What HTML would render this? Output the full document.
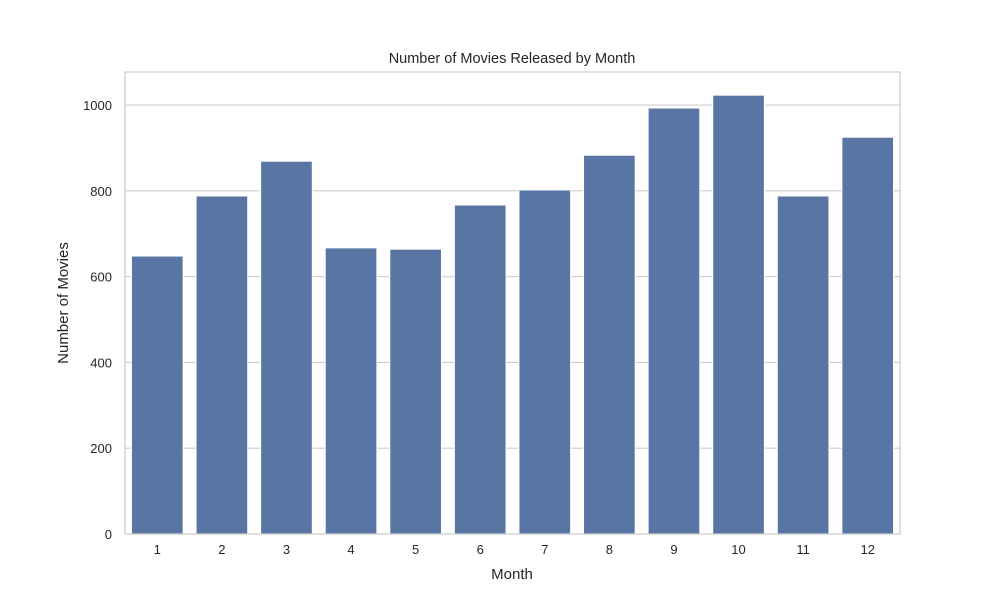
<!DOCTYPE html>
<html><head><meta charset="utf-8"><style>
body{margin:0;background:#fff;}
svg text{font-family:"Liberation Sans","DejaVu Sans",sans-serif;fill:#262626;}
</style></head><body>
<svg id="chart" width="1000" height="600" xmlns="http://www.w3.org/2000/svg">
<text x="512" y="63" font-size="14.5" text-anchor="middle">Number of Movies Released by Month</text>
<g id="grid"></g><g id="bars"></g><g id="ticks"></g>
<rect x="125" y="72" width="775" height="462" fill="none" stroke="#cccccc" stroke-width="1.25"/>
<text x="512" y="579" font-size="15" text-anchor="middle">Month</text>
<text transform="translate(68,303) rotate(-90)" font-size="15" text-anchor="middle">Number of Movies</text>
</svg>
<script>
const categories=["1","2","3","4","5","6","7","8","9","10","11","12"];
const values=[648,788,869,667,664,767,802,883,993,1023,788,925];
const yTicks=[0,200,400,600,800,1000];
const L=125,R=900,T=72,B=534,yMax=1077;
const ns="http://www.w3.org/2000/svg";
const y=v=>B-(v/yMax)*(B-T);
const step=(R-L)/categories.length;
const x=i=>L+step*i;
const grid=document.getElementById('grid'),bars=document.getElementById('bars'),ticks=document.getElementById('ticks');
yTicks.forEach(t=>{
 const l=document.createElementNS(ns,'line');
 l.setAttribute('x1',L);l.setAttribute('x2',R);l.setAttribute('y1',y(t));l.setAttribute('y2',y(t));
 l.setAttribute('stroke','#cccccc');l.setAttribute('stroke-width','1.1');
 
 
 grid.appendChild(l);
 const tx=document.createElementNS(ns,'text');
 tx.setAttribute('x',L-13);tx.setAttribute('y',y(t)+5);tx.setAttribute('text-anchor','end');tx.setAttribute('font-size','13');
 tx.textContent=t;
 
 
 ticks.appendChild(tx);
});
categories.forEach((c,i)=>{
 const w=step*0.8;
 const r=document.createElementNS(ns,'rect');
 r.setAttribute('x',x(i)+step*0.1);r.setAttribute('width',w);
 r.setAttribute('y',y(values[i]));r.setAttribute('height',B-y(values[i]));
 r.setAttribute('fill','#5975a4');r.setAttribute('stroke','#ffffff');r.setAttribute('stroke-width','1');
 
 
 bars.appendChild(r);
 const tx=document.createElementNS(ns,'text');
 tx.setAttribute('x',x(i)+step/2);tx.setAttribute('y',B+20);tx.setAttribute('text-anchor','middle');tx.setAttribute('font-size','13');
 tx.textContent=c;
 
 
 ticks.appendChild(tx);
});
</script>
</body></html>
